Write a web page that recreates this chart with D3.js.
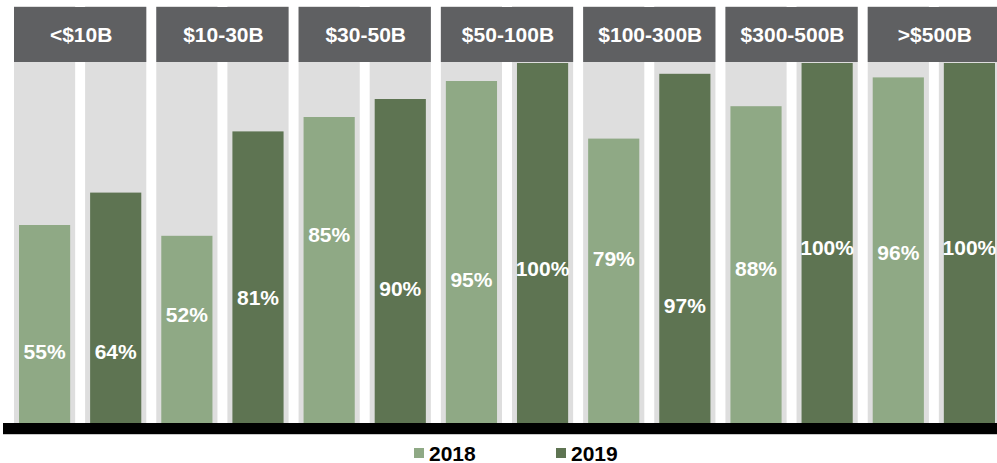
<!DOCTYPE html>
<html>
<head>
<meta charset="utf-8">
<script src="https://cdn.jsdelivr.net/npm/d3@7/dist/d3.min.js"></script>
<style>
  body { margin: 0; background: #fff; }
  svg { display: block; font-family: 'Liberation Sans', Arial, sans-serif; }
</style>
</head>
<body>
<script>
const categories = ['<$10B', '$10-30B', '$30-50B', '$50-100B', '$100-300B', '$300-500B', '>$500B']
const years = ['2018', '2019']
const values2018 = [0.55, 0.52, 0.85, 0.95, 0.79, 0.88, 0.96]
const values2019 = [0.64, 0.81, 0.90, 1.00, 0.97, 1.00, 1.00]
// where the data labels sit, in value units (hand placed in the original)
const labelAt2018 = [0.197, 0.30, 0.522, 0.397, 0.456, 0.428, 0.472]
const labelAt2019 = [0.197, 0.347, 0.372, 0.428, 0.325, 0.486, 0.486]

const width = 997
const height = 463
const colors = { '2018': '#8fa985', '2019': '#5e7452' }

const svg = d3.select('body').append('svg')
  .attr('width', width)
  .attr('height', height)

const x = d3.scaleBand()
  .domain(categories)
  .range([14, 1000])
  .paddingInner(0.0703)
  .paddingOuter(0)

const xSub = d3.scaleBand()
  .domain(years)
  .range([0, x.bandwidth()])
  .paddingInner(0.14)

const y = d3.scaleLinear().domain([0, 1]).range([423, 63])

const rows = categories.map((c, i) => ({
  cat: c,
  bars: [
    { year: '2018', value: values2018[i], labelAt: labelAt2018[i] },
    { year: '2019', value: values2019[i], labelAt: labelAt2019[i] }
  ]
}))

const groups = svg.selectAll('g.group')
  .data(rows)
  .join('g')
  .attr('class', 'group')
  .attr('transform', d => `translate(${x(d.cat)},0)`)

// grey column behind each bar
groups.selectAll('rect.bg')
  .data(d => d.bars)
  .join('rect')
  .attr('class', 'bg')
  .attr('x', d => xSub(d.year))
  .attr('y', 6)
  .attr('width', xSub.bandwidth())
  .attr('height', 423 - 6)
  .attr('fill', '#dedede')

const inset = 5
groups.selectAll('rect.bar')
  .data(d => d.bars)
  .join('rect')
  .attr('class', 'bar')
  .attr('x', d => xSub(d.year) + inset)
  .attr('y', d => y(d.value))
  .attr('width', xSub.bandwidth() - inset * 2)
  .attr('height', d => y(0) - y(d.value))
  .attr('fill', d => colors[d.year])

groups.selectAll('text.label')
  .data(d => d.bars)
  .join('text')
  .attr('class', 'label')
  .attr('x', d => xSub(d.year) + xSub.bandwidth() / 2)
  .attr('y', d => y(d.labelAt))
  .attr('dy', '0.35em')
  .attr('text-anchor', 'middle')
  .attr('fill', '#fff')
  .attr('font-weight', 'bold')
  .attr('font-size', 21)
  .text(d => Math.round(d.value * 100) + '%')

// header boxes
groups.append('rect')
  .attr('x', 0)
  .attr('y', 7)
  .attr('width', x.bandwidth())
  .attr('height', 55)
  .attr('fill', '#5f6062')

groups.append('text')
  .attr('x', x.bandwidth() / 2 + 1)
  .attr('y', 35)
  .attr('dy', '0.35em')
  .attr('text-anchor', 'middle')
  .attr('fill', '#fff')
  .attr('font-weight', 'bold')
  .attr('font-size', 21)
  .text(d => d.cat)

// baseline
svg.append('rect')
  .attr('x', 3)
  .attr('y', y(0))
  .attr('width', width - 3)
  .attr('height', 11)
  .attr('fill', '#000')
svg.append('line')
  .attr('x1', 3).attr('x2', width)
  .attr('y1', y(0) + 11.5).attr('y2', y(0) + 11.5)
  .attr('stroke', '#c8c8c8')

// legend
const legendX = { '2018': 414, '2019': 556 }
const legend = svg.selectAll('g.legend')
  .data(years)
  .join('g')
  .attr('class', 'legend')
  .attr('transform', d => `translate(${legendX[d]},448)`)

legend.append('rect')
  .attr('width', 10)
  .attr('height', 10)
  .attr('fill', d => colors[d])

legend.append('text')
  .attr('x', 15)
  .attr('y', 12.5)
  .attr('font-weight', 'bold')
  .attr('font-size', 21)
  .attr('fill', '#000')
  .text(d => d)
</script>
</body>
</html>
